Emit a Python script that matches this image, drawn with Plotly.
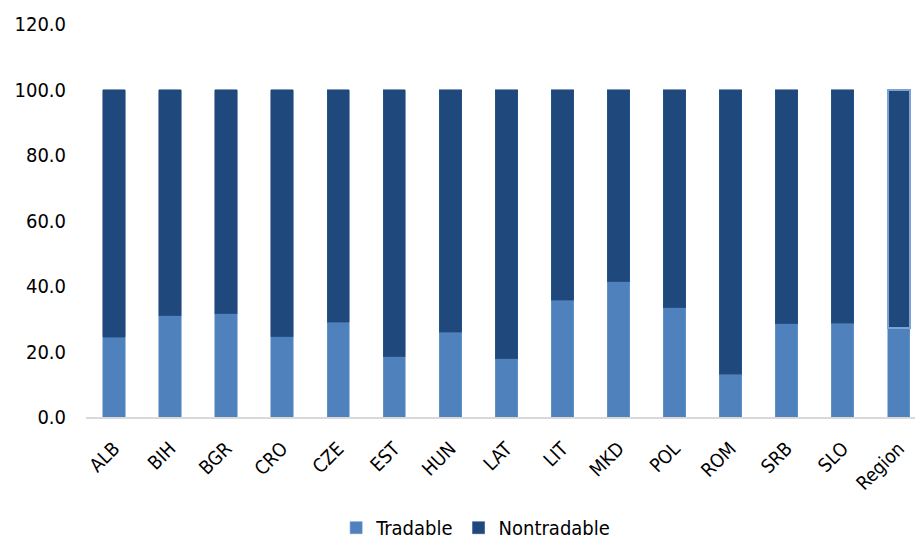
import plotly.graph_objects as go

countries = ["ALB", "BIH", "BGR", "CRO", "CZE", "EST", "HUN", "LAT", "LIT",
             "MKD", "POL", "ROM", "SRB", "SLO", "Region"]
tradable = [24.4, 30.9, 31.6, 24.5, 28.9, 18.4, 25.9, 17.8, 35.7,
            41.3, 33.4, 13.0, 28.5, 28.7, 27.2]
nontradable = [round(100 - t, 1) for t in tradable]

y_ticks = [0, 20, 40, 60, 80, 100, 120]
y_tick_text = [f"{v:.1f}" for v in y_ticks]

LIGHT = "#4f81bd"
DARK = "#1f497d"
FONT = "DejaVu Sans Condensed"

# Region bar carries a highlighted outline on its nontradable segment
dark_line_colors = ["#2c5689"] * (len(countries) - 1) + ["#7ea3d3"]
dark_line_widths = [0.6] * (len(countries) - 1) + [2]

fig = go.Figure()
fig.add_trace(go.Bar(
    x=countries, y=tradable, name="Tradable",
    marker=dict(color=LIGHT, line=dict(color="#6d97cc", width=0.6)),
))
fig.add_trace(go.Bar(
    x=countries, y=nontradable, name="Nontradable",
    marker=dict(color=DARK, line=dict(color=dark_line_colors, width=dark_line_widths)),
))

fig.update_layout(
    width=915, height=544,
    barmode="stack", bargap=0.6,
    margin=dict(l=86, r=0, t=24, b=127),
    paper_bgcolor="white", plot_bgcolor="white",
    font=dict(family=FONT, size=18, color="#000000"),
    legend=dict(orientation="h", x=0.47, xanchor="center",
                yref="container", y=0.03, yanchor="middle",
                font=dict(family=FONT, size=20), itemwidth=30, traceorder="normal"),
    showlegend=True,
)
fig.update_xaxes(
    range=[-0.5, 14.29], tickangle=-45, showgrid=False, automargin=False,
    showline=True, linecolor="#d9d9d9", linewidth=2,
    tickfont=dict(family=FONT, size=19), ticks="", ticklabelstandoff=11,
)
fig.update_yaxes(
    range=[0, 120], tickvals=y_ticks, ticktext=y_tick_text, automargin=False,
    showgrid=False, zeroline=False, showline=False, ticks="",
    tickfont=dict(family=FONT, size=20), ticklabelstandoff=19,
)

fig.write_html("out.html")
